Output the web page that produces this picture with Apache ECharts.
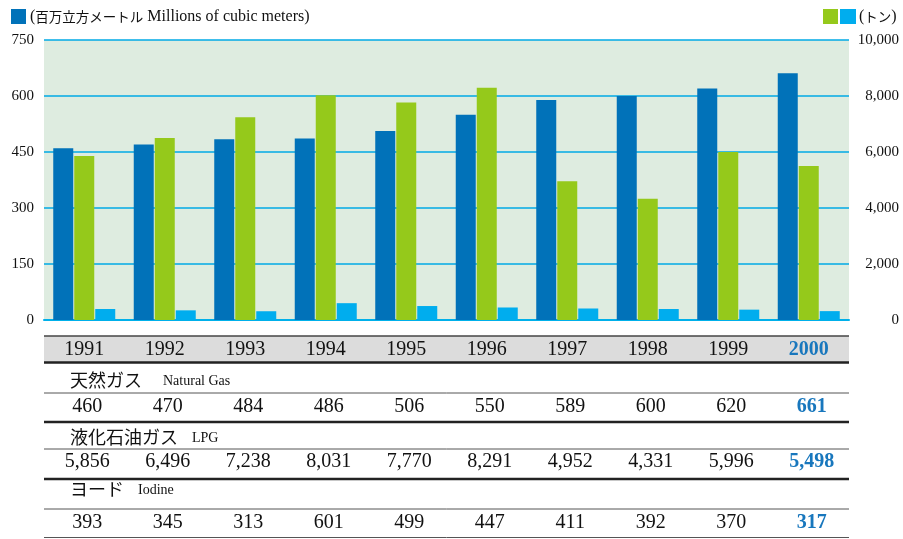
<!DOCTYPE html>
<html>
<head>
<meta charset="utf-8">
<script src="https://cdn.jsdelivr.net/npm/echarts@6/dist/echarts.min.js"></script>
<style>
    html, body { margin: 0; padding: 0; background: #fff; }
    #main { width: 903px; height: 539px; }
</style>
</head>
<body>
<div id="main"></div>
<script>
var years = ['1991', '1992', '1993', '1994', '1995', '1996', '1997', '1998', '1999', '2000'];
var naturalGas = [460, 470, 484, 486, 506, 550, 589, 600, 620, 661];
var lpg = [5856, 6496, 7238, 8031, 7770, 8291, 4952, 4331, 5996, 5498];
var iodine = [393, 345, 313, 601, 499, 447, 411, 392, 370, 317];
var leftTicks = [0, 150, 300, 450, 600, 750];
var rightTicks = [0, 2000, 4000, 6000, 8000, 10000];
var rowLabels = [
    ['天然ガス', 'Natural Gas'],
    ['液化石油ガス', 'LPG'],
    ['ヨード', 'Iodine']
];

var SERIF = '"Liberation Serif", "DejaVu Serif", serif';
var SANS = '"Noto Sans CJK JP", "Noto Sans", sans-serif';
var C_GAS = '#0172b9', C_LPG = '#95c91b', C_IOD = '#00adee', C_HI = '#1877bd';

var gridLeft = 44, gridRight = 54, gridTop = 40, gridBottom = 219;
var chart = echarts.init(document.getElementById('main'));

function fmt(v) {
    return v.toLocaleString('en-US');
}

var option = {
    animation: false,
    grid: {
        left: gridLeft, right: gridRight, top: gridTop, bottom: gridBottom,
        show: true, backgroundColor: '#deece0', borderWidth: 0
    },
    xAxis: {
        type: 'category',
        data: years,
        axisLine: { show: true, lineStyle: { color: '#00b0ea', width: 2 } },
        axisTick: { show: false },
        axisLabel: { show: false }
    },
    yAxis: [
        {
            type: 'value',
            min: leftTicks[0], max: leftTicks[leftTicks.length - 1], interval: 150,
            axisLine: { show: false },
            axisTick: { show: false },
            axisLabel: { margin: 10, color: '#111', fontFamily: SERIF, fontSize: 15 },
            splitLine: { lineStyle: { color: '#00aae6', width: 1.5 } }
        },
        {
            type: 'value',
            min: rightTicks[0], max: rightTicks[rightTicks.length - 1], interval: 2000,
            axisLine: { show: false },
            axisTick: { show: false },
            axisLabel: {
                margin: 50, align: 'right', color: '#111', fontFamily: SERIF, fontSize: 15,
                formatter: function (v) { return fmt(v); }
            },
            splitLine: { show: false }
        }
    ],
    series: [
        { name: '天然ガス', type: 'bar', yAxisIndex: 0, data: naturalGas, barWidth: 20, barGap: '5%', itemStyle: { color: C_GAS } },
        { name: '液化石油ガス', type: 'bar', yAxisIndex: 1, data: lpg, barWidth: 20, barGap: '5%', itemStyle: { color: C_LPG } },
        { name: 'ヨード', type: 'bar', yAxisIndex: 1, data: iodine, barWidth: 20, barGap: '5%', itemStyle: { color: C_IOD } }
    ]
};
chart.setOption(option);

// 表とレジェンドを graphic で描く
var x0 = gridLeft, x1 = 903 - gridRight;
var g = [];

function hline(y, w, color) {
    g.push({ type: 'line', shape: { x1: x0, y1: y, x2: x1, y2: y }, style: { stroke: color || '#333', lineWidth: w }, z: 10 });
}
function txt(x, y, text, font, color, align, weight) {
    g.push({
        type: 'text', x: x, y: y, z: 11,
        style: {
            text: text, fill: color || '#111', font: (weight || 'normal') + ' ' + font,
            align: align || 'center', verticalAlign: 'middle'
        }
    });
}

// legend
g.push({ type: 'rect', shape: { x: 11, y: 9, width: 15, height: 15 }, style: { fill: C_GAS } });
g.push({
    type: 'text', x: 30, y: 17,
    style: {
        text: '{a|(}{j|百万立方メートル}{e| Millions of cubic meters)}', verticalAlign: 'middle',
        rich: {
            a: { fontFamily: SERIF, fontSize: 16, fill: '#111' },
            j: { fontFamily: SANS, fontSize: 13.5, fill: '#111' },
            e: { fontFamily: SERIF, fontSize: 16, fill: '#111' }
        }
    }
});
g.push({ type: 'rect', shape: { x: 823, y: 9, width: 15, height: 15 }, style: { fill: C_LPG } });
g.push({ type: 'rect', shape: { x: 840, y: 9, width: 16, height: 15 }, style: { fill: C_IOD } });
g.push({
    type: 'text', x: 859, y: 17,
    style: {
        text: '{a|(}{j|トン}{a|)}', verticalAlign: 'middle',
        rich: {
            a: { fontFamily: SERIF, fontSize: 16, fill: '#111' },
            j: { fontFamily: SANS, fontSize: 13.5, fill: '#111' }
        }
    }
});

// year row
g.push({ type: 'rect', shape: { x: x0, y: 336, width: x1 - x0, height: 26 }, style: { fill: '#dcdcdc' }, z: 9 });
hline(336, 1.5, '#444');
hline(362.5, 2.5, '#222');
hline(393, 1, '#555');
hline(422, 2.5, '#222');
hline(449, 1, '#555');
hline(479, 2.5, '#222');
hline(509, 1, '#555');
hline(537.5, 1, '#555');

var labelY = [380, 437, 489];
var valueY = [407, 462, 523];
var valueRows = [naturalGas, lpg, iodine];
var enX = [163, 192, 138];

for (var r = 0; r < rowLabels.length; r++) {
    txt(70, labelY[r], rowLabels[r][0], '18px ' + SANS, '#111', 'left');
    txt(enX[r], labelY[r] + 1, rowLabels[r][1], '14px ' + SERIF, '#111', 'left');
}

for (var i = 0; i < years.length; i++) {
    var cx = chart.convertToPixel({ xAxisIndex: 0 }, years[i]);
    var last = i === years.length - 1;
    txt(cx, 350, years[i], '20px ' + SERIF, last ? C_HI : '#111', 'center', last ? 'bold' : 'normal');
    for (var k = 0; k < valueRows.length; k++) {
        txt(cx + 3, valueY[k], fmt(valueRows[k][i]), '20px ' + SERIF, last ? C_HI : '#111', 'center', last ? 'bold' : 'normal');
    }
}

chart.setOption({ graphic: g });
</script>
</body>
</html>
